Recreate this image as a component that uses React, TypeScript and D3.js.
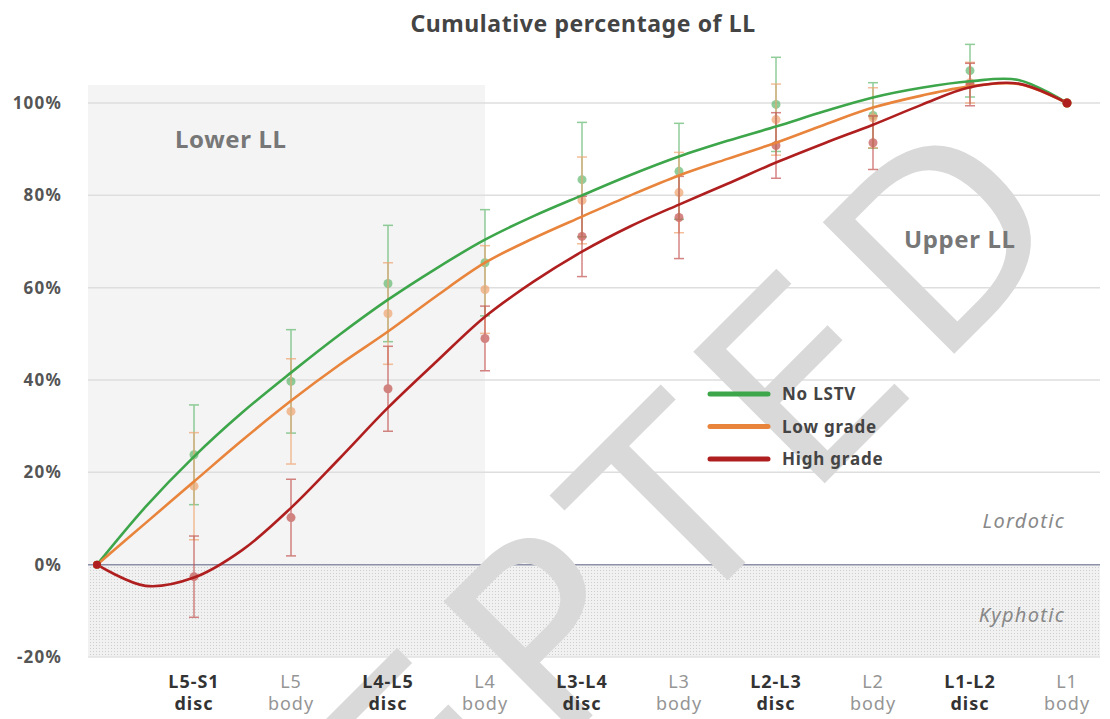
import React from "react";
import * as d3 from "d3";

const W = 1110;
const H = 719;

const xLabelTop = ["L5-S1", "L5", "L4-L5", "L4", "L3-L4", "L3", "L2-L3", "L2", "L1-L2", "L1"];
const xLabelBottom = ["disc", "body", "disc", "body", "disc", "body", "disc", "body", "disc", "body"];
const yTicks = [-20, 0, 20, 40, 60, 80, 100];
const gridTicks = [20, 40, 60, 80, 100];

const seriesNames = ["No LSTV", "Low grade", "High grade"];
const lineColors = ["#3da64a", "#e8843b", "#b01f1f"];
const pointColors = ["#62b96f", "#f0a36e", "#c2524f"];

// level index 0 = start (S1), 1..10 = L5-S1 disc .. L1 body
const meanNoLSTV = [0, 23.8, 39.7, 60.9, 65.4, 83.4, 85.2, 99.7, 97.3, 107.0, 100];
const sdNoLSTV = [0, 10.8, 11.2, 12.6, 11.5, 12.4, 10.4, 10.2, 7.1, 5.7, 0];
const meanLow = [0, 17.0, 33.2, 54.4, 59.6, 78.9, 80.6, 96.4, 96.8, 104.4, 100];
const sdLow = [0, 11.6, 11.4, 11.0, 9.5, 9.4, 8.7, 7.7, 6.5, 4.4, 0];
const meanHigh = [0, -2.6, 10.2, 38.1, 49.0, 71.1, 75.2, 90.8, 91.4, 104.0, 100];
const sdHigh = [0, 8.8, 8.3, 9.2, 7.0, 8.7, 8.9, 7.1, 5.8, 4.6, 0];

// fitted trend curves
const trendPos = [0, 0.5, 1, 1.5, 2, 2.5, 3, 3.5, 4, 4.5, 5, 5.5, 6, 6.5, 7, 7.5, 8, 8.5, 9, 9.5, 10];
const trendNoLSTV = [0, 12.5, 23.4, 33, 41.6, 49.8, 57.4, 64.2, 70.4, 75.5, 80, 84.4, 88.4, 91.8, 94.9, 98.2, 101.2, 103.3, 104.7, 105.0, 100];
const trendLow = [0, 9, 18, 27, 35.5, 43.3, 50.5, 58.2, 65.4, 70.7, 75.4, 80, 84.3, 87.9, 91.4, 95.3, 99, 101.6, 103.6, 104.1, 100];
const trendHigh = [0, -4.6, -2.8, 3.2, 12.3, 23, 34, 44, 53.7, 61.3, 67.8, 73.3, 78, 82.5, 87.1, 91.3, 95.3, 99.6, 103.4, 104.2, 100];

const means = [meanNoLSTV, meanLow, meanHigh];
const sds = [sdNoLSTV, sdLow, sdHigh];
const trends = [trendNoLSTV, trendLow, trendHigh];

const FONT = "'Noto Sans', 'Open Sans', sans-serif";

export default function App() {
  const x = d3.scaleLinear().domain([0, 10]).range([97, 1067]);
  const y = d3.scaleLinear().domain([-20, 100]).range([657, 103]);
  const plotLeft = 88;
  const plotRight = 1100;

  const line = d3
    .line<number>()
    .x((_, i) => x(trendPos[i]))
    .y((d) => y(d))
    .curve(d3.curveCatmullRom.alpha(0.5));

  const levels = d3.range(1, 10);

  return (
    <svg
      width={W}
      height={H}
      style={{ position: "absolute", left: 0, top: 0, background: "#fff" }}
      fontFamily={FONT}
    >
      <defs>
        <pattern id="dots" width="3" height="3" patternUnits="userSpaceOnUse">
          <rect width="3" height="3" fill="#f1f1f1" />
          <rect width="1" height="1" fill="#cfcfcf" />
        </pattern>
        <clipPath id="frame">
          <rect x={0} y={0} width={W} height={H} />
        </clipPath>
      </defs>

      {/* Lower LL shaded area */}
      <rect x={plotLeft} y={85} width={x(4) - plotLeft} height={y(0) - 85} fill="#f4f4f4" />
      {/* Kyphotic dotted area */}
      <rect x={plotLeft} y={y(0)} width={plotRight - plotLeft} height={y(-20) - y(0)} fill="url(#dots)" />

      {/* grid */}
      {gridTicks.map((t) => (
        <line key={t} x1={plotLeft} x2={plotRight} y1={y(t)} y2={y(t)} stroke="#dedede" strokeWidth={1.5} />
      ))}
      <line x1={plotLeft} x2={plotRight} y1={y(-20)} y2={y(-20)} stroke="#e2e2e2" strokeWidth={1.5} />
      <line x1={plotLeft} x2={plotRight} y1={y(0)} y2={y(0)} stroke="#8c90a6" strokeWidth={1.5} />

      {/* watermark */}
      <g clipPath="url(#frame)">
        <text
          transform={`translate(9,1299) rotate(-45)`}
          fontSize={255}
          letterSpacing={22}
          fill="#d9d9d9"
          fontFamily="'DejaVu Sans', sans-serif"
        >
          ACCEPTED
        </text>
      </g>

      {/* y labels */}
      {yTicks.map((t) => (
        <text key={t} x={62} y={y(t) + 6} textAnchor="end" fontSize={17} letterSpacing={1.2} fontWeight="bold" fill="#555">
          {t}%
        </text>
      ))}

      {/* x labels */}
      {xLabelTop.map((lab, i) => {
        const disc = xLabelBottom[i] === "disc";
        return (
          <text
            key={lab}
            x={x(i + 1)}
            textAnchor="middle"
            fontSize={18}
            letterSpacing={1}
            fontWeight={disc ? "bold" : "normal"}
            fill={disc ? "#333" : "#959595"}
          >
            <tspan x={x(i + 1)} y={688}>{lab}</tspan>
            <tspan x={x(i + 1)} y={710}>{xLabelBottom[i]}</tspan>
          </text>
        );
      })}

      {/* error bars & points */}
      {means.map((m, s) => (
        <g key={s} opacity={0.7}>
          {levels.map((i) => {
            const cx = x(i);
            const top = y(m[i] + sds[s][i]);
            const bot = y(m[i] - sds[s][i]);
            return (
              <g key={i}>
                <line x1={cx} x2={cx} y1={top} y2={bot} stroke={pointColors[s]} strokeWidth={1.5} />
                <line x1={cx - 5} x2={cx + 5} y1={top} y2={top} stroke={pointColors[s]} strokeWidth={1.5} />
                <line x1={cx - 5} x2={cx + 5} y1={bot} y2={bot} stroke={pointColors[s]} strokeWidth={1.5} />
                <circle cx={cx} cy={y(m[i])} r={4.5} fill={pointColors[s]} />
              </g>
            );
          })}
        </g>
      ))}

      {/* trend curves */}
      {trends.map((t, s) => (
        <path key={s} d={line(t) || ""} fill="none" stroke={lineColors[s]} strokeWidth={2.6} />
      ))}
      {means.map((m, s) => (
        <g key={"end" + s}>
          <circle cx={x(0)} cy={y(m[0])} r={4} fill={lineColors[s]} />
          <circle cx={x(10)} cy={y(m[10])} r={4.5} fill={lineColors[s]} />
        </g>
      ))}

      {/* title */}
      <text x={583} y={32} textAnchor="middle" fontSize={23} letterSpacing={0.6} fontWeight="bold" fill="#444">
        Cumulative percentage of LL
      </text>

      <text x={175} y={148} fontSize={24} letterSpacing={0.6} fontWeight="bold" fill="#777">Lower LL</text>
      <text x={904} y={248} fontSize={24} letterSpacing={0.6} fontWeight="bold" fill="#777">Upper LL</text>
      <text x={1065} y={528} textAnchor="end" fontSize={20} letterSpacing={1.3} fontStyle="italic" fill="#888">Lordotic</text>
      <text x={1065} y={622} textAnchor="end" fontSize={20} letterSpacing={1.3} fontStyle="italic" fill="#888">Kyphotic</text>

      {/* legend */}
      {seriesNames.map((n, s) => {
        const ly = 394 + s * 32.5;
        return (
          <g key={n}>
            <line x1={710} x2={768} y1={ly} y2={ly} stroke={lineColors[s]} strokeWidth={5} strokeLinecap="round" />
            <text x={782} y={ly + 6} fontSize={17} letterSpacing={0.8} fontWeight="bold" fill="#444">{n}</text>
          </g>
        );
      })}
    </svg>
  );
}
